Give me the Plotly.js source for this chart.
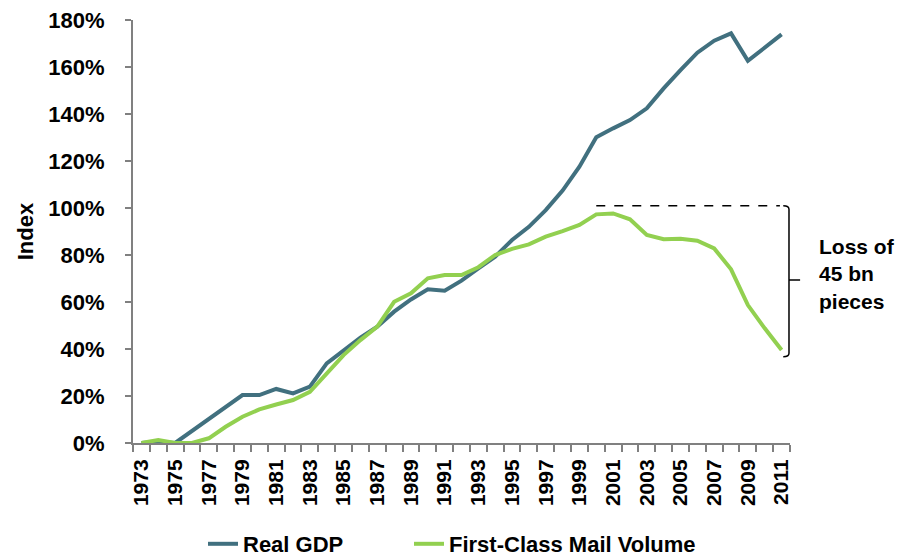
<!DOCTYPE html>
<html>
<head>
<meta charset="utf-8">
<script src="https://cdn.plot.ly/plotly-3.0.1.min.js"></script>
<style>html,body{margin:0;padding:0;background:#fff;overflow:hidden;}#chart{width:909px;height:558px;}</style>
</head>
<body>
<div id="chart"></div>
<script>
var years = [];
for (var y = 1973; y <= 2011; y++) years.push(y);

var realGDP = [0, 0.5, 0, 5, 10, 15, 20.4, 20.4, 23, 21.1, 24, 33.9, 39.6, 44.8, 49.5, 55.9, 61.1, 65.4, 64.8, 69.1, 74.3,
  79.3, 86.4, 92, 99.1, 107.4, 117.6, 130.1, 133.9, 137.4, 142.4, 150.9, 158.7, 166.1, 171.2, 174.3, 162.6, 168.2, 173.9];
var mailVolume = [0, 1.3, 0, 0, 2, 6.9, 11.2, 14.3, 16.4, 18.3, 21.8, 29.7, 37.4, 43.8, 49.5, 60.1, 63.7, 70.1, 71.5, 71.5, 74.8,
  80, 82.6, 84.5, 87.8, 90.2, 92.8, 97.3, 97.7, 95.2, 88.5, 86.7, 86.9, 86.1, 82.8, 73.9, 58.7, 48.8, 39.6];
var tickYears = years.filter(function (v) { return (v - 1973) % 2 === 0; });
var tickLabels = tickYears.map(String);
var seriesNames = ['Real GDP', 'First-Class Mail Volume'];
var annotationText = 'Loss of<br>45 bn<br>pieces';
var lossTop = 101, lossBottom = 36.7, lossMid = 69.4;

var W = 909, H = 558;
var yMax = 180;
var x0 = 1972.5, nCats = 39;
function px(yr) { return (yr - x0) / nCats; }
function py(v) { return v / yMax; }

var traces = [
  { x: years, y: realGDP, name: seriesNames[0], type: 'scatter', mode: 'lines',
    line: { color: '#41707f', width: 4 }, legend: 'legend' },
  { x: years, y: mailVolume, name: seriesNames[1], type: 'scatter', mode: 'lines',
    line: { color: '#92d050', width: 4 }, legend: 'legend2' }
];

var legendFont = { size: 22, weight: 'bold', color: '#000' };
var bx = px(2011.44), bh = px(2011.1), bt = px(2012.1);
var layout = {
  width: W, height: H,
  margin: { l: 133, r: 119, t: 20, b: 115 },
  paper_bgcolor: '#fff', plot_bgcolor: '#fff',
  font: { family: 'Liberation Sans, Arial, sans-serif', color: '#000', size: 22, weight: 'bold' },
  showlegend: true,
  legend: { orientation: 'h', xref: 'container', yref: 'container', x: 203 / W, xanchor: 'left',
    y: 14 / H, yanchor: 'middle', font: legendFont, bgcolor: 'rgba(0,0,0,0)', borderwidth: 0 },
  legend2: { orientation: 'h', xref: 'container', yref: 'container', x: 409 / W, xanchor: 'left',
    y: 14 / H, yanchor: 'middle', font: legendFont, bgcolor: 'rgba(0,0,0,0)', borderwidth: 0 },
  xaxis: {
    range: [x0, x0 + nCats], tickmode: 'array', tickvals: tickYears, ticktext: tickLabels,
    tickangle: -90, ticks: '', showgrid: false, zeroline: false,
    showline: true, linecolor: '#808080', linewidth: 2, automargin: false,
    tickfont: { size: 21, weight: 'bold' }, ticklabelstandoff: 6,
    minor: { tickmode: 'linear', tick0: 1972.5, dtick: 1, ticks: 'outside', ticklen: 7, tickwidth: 2, tickcolor: '#808080', showgrid: false },
    fixedrange: true
  },
  yaxis: {
    range: [0, yMax], dtick: 20, ticksuffix: '%', ticks: 'outside', ticklen: 6, tickwidth: 2, tickcolor: '#808080',
    showgrid: false, zeroline: false, showline: true, linecolor: '#808080', linewidth: 2, automargin: false,
    tickfont: { size: 22, weight: 'bold' }, ticklabelstandoff: 16,
    title: { text: 'Index', font: { size: 22, weight: 'bold' }, standoff: 9 },
    fixedrange: true
  },
  shapes: [
    { type: 'line', xref: 'paper', yref: 'paper', x0: px(2000), x1: px(2010.9), y0: py(lossTop), y1: py(lossTop),
      line: { color: '#000', width: 1.5, dash: 'dash' } },
    { type: 'path', xref: 'paper', yref: 'paper',
      path: 'M ' + bh + ',' + py(lossTop) + ' Q ' + bx + ',' + py(lossTop) + ' ' + bx + ',' + py(lossTop - 1.5) +
        ' L ' + bx + ',' + py(lossBottom + 1.5) + ' Q ' + bx + ',' + py(lossBottom) + ' ' + bh + ',' + py(lossBottom) +
        ' M ' + bx + ',' + py(lossMid) + ' L ' + bt + ',' + py(lossMid),
      line: { color: '#000', width: 1.5 } }
  ],
  annotations: [
    { xref: 'paper', yref: 'paper', x: px(2013.1), y: py(71.9), xanchor: 'left', yanchor: 'middle', align: 'left',
      text: annotationText, showarrow: false, font: { size: 21, weight: 'bold', color: '#000' } }
  ]
};

Plotly.newPlot('chart', traces, layout, { displayModeBar: false, staticPlot: true });
</script>
</body>
</html>
